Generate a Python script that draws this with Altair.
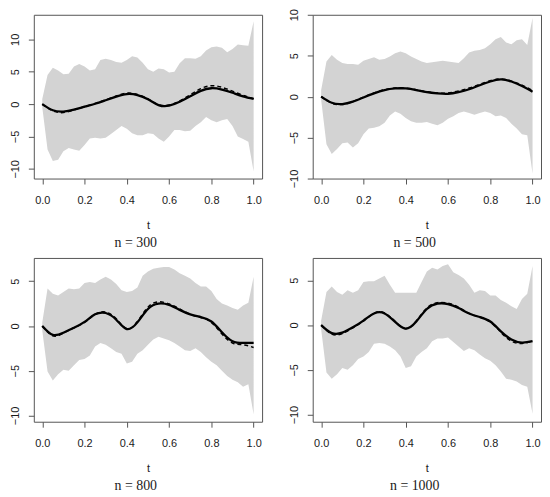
import altair as alt
import pandas as pd

# ---- data -------------------------------------------------------------
band_t = [round(i * 0.025, 3) for i in range(41)]
curve_t = [round(i * 0.05, 2) for i in range(21)]

captions = ["n = 300", "n = 500", "n = 800", "n = 1000"]

upper_300 = [0.8, 4.5, 5.6, 5.2, 4.6, 4.7, 5.8, 6.2, 5.8, 5.2, 5.4, 6.8, 7.0, 6.8, 6.5, 6.4,
             6.8, 7.4, 7.2, 6.4, 5.4, 5.0, 5.5, 5.4, 4.9, 5.0, 6.3, 7.1, 7.1, 7.0, 7.4, 8.3,
             8.8, 8.9, 8.7, 8.0, 8.5, 9.2, 9.1, 9.0, 12.8]
lower_300 = [-0.5, -7.0, -8.8, -8.6, -7.3, -6.8, -7.0, -7.2, -6.3, -5.3, -5.2, -5.3, -5.2, -4.6,
             -4.0, -3.4, -3.8, -4.5, -4.8, -4.8, -4.5, -4.6, -5.3, -5.8, -5.0, -4.0, -4.0, -4.2,
             -4.1, -3.4, -2.8, -2.0, -2.5, -2.8, -2.5, -2.3, -3.4, -5.0, -5.4, -5.8, -10.4]
solid_300 = [0, -0.95, -1.15, -0.85, -0.4, 0.05, 0.6, 1.15, 1.55, 1.4, 0.75, -0.15, -0.25,
             0.35, 1.2, 2.05, 2.45, 2.25, 1.75, 1.2, 0.8]
dashed_300 = [0, -1.05, -1.3, -0.9, -0.4, 0.1, 0.65, 1.25, 1.7, 1.5, 0.8, -0.1, -0.15, 0.5,
              1.45, 2.4, 2.85, 2.6, 2.0, 1.35, 0.85]

upper_500 = [0.8, 4.3, 5.1, 4.5, 4.1, 4.0, 4.0, 3.9, 4.4, 4.6, 4.8, 4.5, 4.6, 4.9, 5.3, 5.5,
             5.3, 4.9, 4.6, 4.3, 4.1, 4.2, 4.3, 4.4, 4.3, 4.2, 4.1, 4.7, 5.4, 5.6, 5.7, 5.9,
             6.4, 7.0, 7.3, 6.6, 6.4, 6.9, 7.0, 6.3, 9.6]
lower_500 = [-0.4, -5.8, -7.0, -6.4, -5.7, -5.6, -6.2, -5.7, -4.6, -3.9, -3.8, -3.6, -3.2, -2.3,
             -1.8, -2.1, -2.6, -3.0, -3.2, -3.2, -3.1, -3.3, -3.5, -3.2, -2.7, -2.4, -2.0, -1.8,
             -2.0, -2.2, -2.0, -1.8, -2.0, -2.4, -2.3, -2.6, -3.3, -3.9, -4.6, -4.7, -9.4]
solid_500 = [0, -0.75, -0.9, -0.6, -0.1, 0.4, 0.8, 1.0, 1.0, 0.8, 0.55, 0.4, 0.35, 0.55, 0.9,
             1.4, 1.85, 2.1, 1.85, 1.3, 0.6]
dashed_500 = [0, -0.8, -0.95, -0.6, -0.05, 0.45, 0.85, 1.05, 1.05, 0.85, 0.6, 0.45, 0.45, 0.7,
              1.05, 1.5, 1.95, 2.15, 1.9, 1.4, 0.75]

upper_800 = [0.4, 4.2, 3.6, 3.4, 3.8, 4.2, 4.1, 4.2, 4.8, 4.9, 4.8, 5.2, 5.5, 5.2, 4.7, 4.0,
             3.8, 3.9, 4.3, 5.6, 6.1, 6.4, 6.5, 6.6, 6.6, 6.3, 5.9, 5.6, 5.3, 4.8, 4.4, 4.4,
             3.9, 3.0, 2.5, 2.3, 2.0, 1.8, 2.3, 2.6, 5.5]
lower_800 = [-0.5, -5.1, -6.1, -5.4, -4.9, -5.0, -4.4, -3.8, -3.7, -3.3, -2.3, -1.9, -2.1, -2.5,
             -2.9, -3.1, -4.2, -4.0, -3.1, -2.7, -2.1, -1.5, -1.2, -1.4, -1.6, -1.9, -2.3, -2.7,
             -2.8, -2.5, -2.9, -3.5, -4.0, -4.4, -5.0, -5.6, -6.0, -6.3, -6.8, -6.5, -9.9]
solid_800 = [0, -1.0, -0.75, -0.2, 0.45, 1.3, 1.45, 0.7, -0.35, 0.4, 1.9, 2.5, 2.35, 1.8, 1.3,
             1.0, 0.5, -0.7, -1.7, -1.9, -1.9]
dashed_800 = [0, -1.1, -0.8, -0.2, 0.4, 1.3, 1.55, 0.8, -0.3, 0.5, 2.1, 2.7, 2.45, 1.9, 1.3,
              0.95, 0.4, -0.9, -1.9, -2.1, -2.4]

upper_1000 = [0.5, 3.7, 4.3, 3.7, 3.4, 3.9, 3.6, 3.9, 4.8, 4.9, 4.9, 5.2, 5.5, 4.5, 3.6, 3.6,
              3.6, 3.6, 3.6, 4.8, 6.0, 6.4, 6.2, 6.6, 6.8, 5.9, 5.6, 5.2, 4.5, 3.6, 3.9, 3.8,
              3.3, 3.3, 2.8, 2.5, 2.1, 1.8, 2.9, 3.5, 6.6]
lower_1000 = [-0.5, -5.3, -6.0, -5.5, -4.8, -5.0, -4.5, -3.8, -3.5, -3.0, -2.1, -2.0, -2.1, -2.4,
              -2.8, -3.5, -4.8, -4.6, -3.5, -3.0, -2.6, -1.8, -1.5, -1.5, -1.4, -1.9, -2.4, -2.9,
              -2.6, -2.8, -3.3, -3.7, -4.0, -4.5, -5.2, -6.0, -6.1, -6.3, -6.7, -6.9, -9.9]
solid_1000 = [0, -0.9, -0.85, -0.25, 0.5, 1.3, 1.3, 0.35, -0.4, 0.4, 1.8, 2.4, 2.35, 1.9, 1.3,
              0.9, 0.4, -0.7, -1.6, -1.95, -1.8]
dashed_1000 = [0, -1.0, -0.95, -0.3, 0.45, 1.3, 1.35, 0.4, -0.4, 0.45, 1.9, 2.5, 2.45, 2.0, 1.3,
               0.9, 0.35, -0.8, -1.8, -2.05, -1.8]

y_ticks_top = [-10, -5, 0, 5, 10]
y_ticks_bottom = [-10, -5, 0, 5]
x_ticks = [0.0, 0.2, 0.4, 0.6, 0.8, 1.0]

panels = [
    (captions[0], upper_300, lower_300, solid_300, dashed_300, [-11.5, 13.8], y_ticks_top),
    (captions[1], upper_500, lower_500, solid_500, dashed_500, [-10, 10], y_ticks_top),
    (captions[2], upper_800, lower_800, solid_800, dashed_800, [-10.7, 7.6], y_ticks_bottom),
    (captions[3], upper_1000, lower_1000, solid_1000, dashed_1000, [-10.8, 7.5], y_ticks_bottom),
]

SANS = "Liberation Sans"
SERIF = "Liberation Serif"
BOX = "#555555"
TXT = "#1a1a1a"


def make_panel(caption, up, lo, so, da, ydom, yticks):
    band = pd.DataFrame({"t": band_t, "lo": lo, "hi": up})
    curves = pd.DataFrame({"t": curve_t, "solid": so, "dashed": da})
    xs = alt.Scale(domain=[-0.04, 1.04], nice=False, zero=False)
    ys = alt.Scale(domain=ydom, nice=False, zero=False)
    xax = alt.Axis(values=x_ticks, format=".1f", title="t", grid=False, domain=False,
                   tickColor=BOX, tickSize=5.5, labelPadding=10.5, labelFont=SANS, labelFontSize=11,
                   labelColor=TXT, titleFont=SANS, titleFontSize=11, titleFontWeight="normal",
                   titleColor=TXT, titlePadding=14, labelFlush=False)
    yax = alt.Axis(values=yticks, title=None, grid=False, domain=False, tickColor=BOX, tickSize=5.5,
                   labelPadding=10, labelAngle=270, labelAlign="center", labelBaseline="alphabetic",
                   labelFont=SANS, labelFontSize=11, labelColor=TXT)
    area = alt.Chart(band).mark_area(color="#d3d3d3", opacity=1, clip=True).encode(
        x=alt.X("t:Q", scale=xs, axis=xax),
        y=alt.Y("hi:Q", scale=ys, axis=yax),
        y2="lo:Q",
    )
    solid = alt.Chart(curves).mark_line(color="black", strokeWidth=2.3, interpolate="natural",
                                        clip=True).encode(x="t:Q", y="solid:Q")
    dashed = alt.Chart(curves).mark_line(color="black", strokeWidth=1.5, strokeDash=[4, 3],
                                         interpolate="natural", clip=True).encode(x="t:Q", y="dashed:Q")
    return alt.layer(area, dashed, solid).properties(
        width=230, height=165,
        title=alt.TitleParams(caption, orient="bottom", font=SERIF, fontSize=14,
                              fontWeight="normal", color=TXT, offset=5.5, frame="bounds",
                              anchor="middle"),
    )


p = [make_panel(*args) for args in panels]
chart = alt.concat(*p, columns=2, spacing={"row": 80, "column": 51}, bounds="flush").properties(
    padding={"left": 0, "top": -2, "right": 0, "bottom": 0},
    background="white",
).configure_view(stroke=BOX, strokeWidth=1)

chart.save("out.html", embed_options={"renderer": "svg", "actions": False})
